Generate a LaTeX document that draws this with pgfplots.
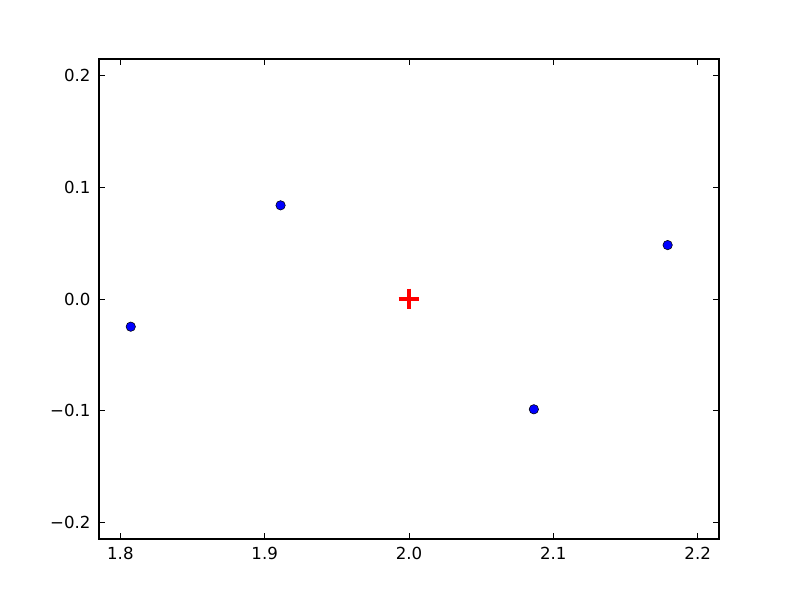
\documentclass[border=0pt]{standalone}
\usepackage{fontspec}
\setmainfont{DejaVu Sans}
\usepackage{pgfplots}
\pgfplotsset{compat=1.18}

\begin{document}
\fontsize{12}{14}\selectfont
\begin{tikzpicture}
\begin{axis}[
  scale only axis,
  width=6.2in, height=4.8in,
  xmin=1.7852, xmax=2.2148,
  ymin=-0.215, ymax=0.215,
  xtick={1.8,1.9,2.0,2.1,2.2},
  xticklabels={1.8,1.9,2.0,2.1,2.2},
  ytick={-0.2,-0.1,0,0.1,0.2},
  yticklabels={−0.2,−0.1,0.0,0.1,0.2},
  tick align=inside,
  major tick length=0.06in,
  tick style={black, line width=0.6pt},
  axis line style={black, line width=0.8pt},
  tick label style={font=\fontsize{12}{14}\selectfont},
  xticklabel style={yshift=-2pt},
  yticklabel style={xshift=-2pt},
  clip=false,
]
\path[use as bounding box] (rel axis cs:-0.1597,-0.1271) rectangle (rel axis cs:1.1306,1.1229);
\addplot[only marks, mark=*, mark size=3.4pt,
  mark options={fill=blue, draw=black, line width=0.4pt}] coordinates {
  (1.8072,-0.0248)
  (1.9110,0.0839)
  (2.0865,-0.0988)
  (2.1792,0.0483)
};
\addplot[only marks, mark=+, mark size=7.5pt,
  mark options={draw=red, line width=2.2pt}] coordinates {
  (2.0,0.0)
};
\end{axis}
\end{tikzpicture}
\end{document}
